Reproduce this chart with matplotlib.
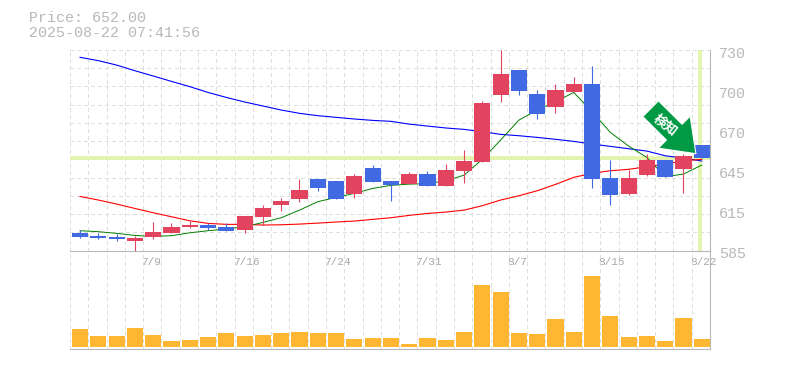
"""Candlestick chart with moving averages, a volume panel and a signal arrow."""
import matplotlib
matplotlib.use("Agg")
import matplotlib.pyplot as plt
import numpy as np
from matplotlib.patches import Rectangle

MONO = "Liberation Mono"
GREY = "#b8b8b8"
GRID = "#dedede"

title_lines = ["Price: 652.00", "2025-08-22 07:41:56"]
date_ticks = [4, 9, 14, 19, 24, 29, 34]
date_labels = ["7/9", "7/16", "7/24", "7/31", "8/7", "8/15", "8/22"]
price_ticks = [585, 614, 643, 672, 701, 730]
price_labels = ["585", "615", "645", "670", "700", "730"]

opens = [597.6, 595.4, 594.7, 591.8, 594.7, 597.6, 601.9, 603.4, 601.9, 599.8, 609.2, 617.9,
         622.2, 636.7, 635.2, 625.8, 644.6, 635.2, 633.0, 640.3, 631.6, 642.4, 649.0, 697.4,
         715.5, 698.1, 688.7, 699.6, 705.4, 637.4, 625.8, 639.6, 650.4, 643.9, 661.3]
closes = [594.7, 594.0, 593.3, 594.0, 598.3, 601.9, 603.4, 601.2, 599.0, 609.9, 615.7, 620.7,
          628.7, 630.2, 622.2, 638.8, 634.5, 632.3, 640.3, 631.6, 643.2, 649.7, 691.6, 712.6,
          700.3, 683.7, 701.0, 705.4, 636.7, 625.1, 637.4, 650.4, 638.1, 653.3, 651.8]
highs = [599.8, 597.8, 596.9, 595.4, 605.6, 604.8, 606.0, 604.8, 604.8, 609.9, 617.9, 622.9,
         636.7, 636.7, 635.2, 640.3, 646.8, 635.2, 641.7, 642.4, 647.5, 657.6, 693.1, 730.0,
         715.5, 701.0, 705.4, 710.4, 718.4, 650.4, 643.2, 654.7, 650.4, 654.7, 661.3]
lows = [594.0, 593.3, 591.8, 584.8, 593.3, 597.6, 601.2, 599.5, 599.0, 597.6, 603.1, 613.5,
        620.0, 628.0, 622.2, 622.9, 634.5, 621.0, 633.0, 631.6, 631.6, 633.8, 649.0, 692.4,
        697.4, 680.1, 684.4, 699.6, 630.2, 617.9, 625.1, 638.8, 638.1, 626.5, 651.8]
volumes = [18, 11, 11, 19, 12, 6, 7, 10, 14, 11, 12, 14, 15, 14, 14, 8, 9, 9,
           3, 9, 7, 15, 62, 55, 14, 13, 28, 15, 71, 31, 10, 11, 6, 29, 8]

ma_short = [599.3, 598.6, 597.4, 595.9, 595.2, 595.7, 597.8, 599.3, 600.5, 602.2, 605.3, 608.7,
            614.2, 620.3, 623.4, 626.3, 629.9, 632.1, 633.0, 633.3, 635.4, 639.5, 650.9, 664.9,
            679.3, 686.6, 692.6, 699.3, 685.4, 670.4, 660.5, 652.3, 638.3, 640.3, 646.8]
ma_mid = [624.1, 621.5, 618.6, 615.4, 612.3, 609.4, 606.5, 604.6, 603.9, 603.9, 603.4, 603.6,
          604.1, 604.8, 605.6, 606.3, 607.5, 608.7, 610.4, 611.8, 612.8, 614.2, 617.4, 621.5,
          624.6, 628.2, 632.8, 637.9, 640.8, 642.7, 643.7, 645.6, 647.5, 649.9, 650.9]
ma_long = [724.7, 722.3, 719.1, 715.0, 711.2, 707.3, 703.5, 699.3, 695.7, 692.4, 689.5, 686.6,
           684.2, 682.5, 681.3, 680.1, 679.1, 678.4, 676.4, 675.0, 673.6, 672.6, 670.9, 669.0,
           668.0, 666.8, 665.4, 663.9, 662.0, 660.3, 658.6, 656.9, 653.5, 651.8, 649.7]
last_price = 652.0
last_index = 34

fig = plt.figure(figsize=(7.85, 3.70), dpi=100)
ax = fig.add_axes([70 / 785, 1 - 250.5 / 370, 640 / 785, 200.5 / 370])
ax_vol = fig.add_axes([70 / 785, 1 - 349 / 370, 640 / 785, 98.5 / 370], sharex=ax)
ax_vol.patch.set_visible(False)

idx = np.arange(len(opens))
ax.set_xlim(-0.55, 34.45)
ax.set_ylim(585, 730)
ax_vol.set_ylim(-2, 96.5)

# grid: 35 columns, 11 rows
grid_x = np.arange(-0.55, 34.46, 1.0)
for a in (ax, ax_vol):
    a.set_xticks(grid_x, minor=True)
    a.grid(True, which="minor", axis="x", color=GRID, lw=0.72, ls=(0, (3, 3)), antialiased=False)
    a.set_axisbelow(True)
    a.tick_params(which="both", length=0, labelbottom=False, labelleft=False)
    a.spines["left"].set_visible(False)
    a.spines["top"].set_visible(False)
    a.spines["right"].set_color(GREY)
    a.spines["bottom"].set_color(GREY)
    a.set_xticks([])
ax.set_yticks(np.linspace(585, 730, 12), minor=True)
ax.grid(True, which="minor", axis="y", color=GRID, lw=0.72, ls=(0, (3, 3)), antialiased=False)
ax_vol.set_yticks([])

# last price guides
ax.axhline(last_price, color="#e2f5a8", lw=2.6, zorder=1.5)
ax.axvline(last_index - 0.1, color="#e2f5a8", lw=2.6, zorder=1.5)

ax.plot(idx, ma_long, color="#0000ff", lw=0.8, zorder=2)
ax.plot(idx, ma_mid, color="#ff0000", lw=0.8, zorder=2)
ax.plot(idx, ma_short, color="#008000", lw=0.7, zorder=2)

for i, (o, c, h, l) in enumerate(zip(opens, closes, highs, lows)):
    col = "#e2435f" if c >= o else "#4169e1"
    ax.vlines(i, l, h, color=col, lw=0.8, zorder=3)
    ax.add_patch(Rectangle((i - 0.44, min(o, c)), 0.88, abs(c - o), fc=col, ec="none", zorder=3))

ax_vol.bar(idx, volumes, width=0.88, color="#ffb733", zorder=2)

# signal arrow, pointing at the latest bars
ax.annotate("", xy=(33.68, 655.0), xytext=(-32.6, 32.4), textcoords="offset points",
            annotation_clip=False, zorder=5,
            arrowprops=dict(arrowstyle="simple,head_length=22,head_width=32.5,tail_width=16",
                            mutation_scale=1, fc="#009944", ec="white", lw=0.8,
                            shrinkA=0, shrinkB=0))
ax.annotate("検知", xy=(33.68, 655.0), xytext=(-21.6, 20.6), textcoords="offset points",
            color="white", fontsize=9.5, fontweight="bold", rotation=-38, zorder=6,
            family=["Noto Sans CJK JP", "DejaVu Sans"], ha="center", va="center",
            rotation_mode="anchor")

# labels
for tick, label in zip(price_ticks, price_labels):
    ax.annotate(label, (1, tick), xycoords=ax.get_yaxis_transform(), xytext=(6.2, -2.6),
                textcoords="offset points", color=GREY, family=MONO, fontsize=10.8,
                ha="left", va="center", annotation_clip=False)
for tick, label in zip(date_ticks, date_labels):
    ax.annotate(label, (tick, 0), xycoords=ax.get_xaxis_transform(), xytext=(-8.6, -8),
                textcoords="offset points", color="#a8a8a8", family=MONO, fontsize=8,
                ha="left", va="center", annotation_clip=False)
fig.text(29 / 785, 1 - 18 / 370, title_lines[0], color=GREY, family=MONO, fontsize=10.8,
         ha="left", va="center")
fig.text(29 / 785, 1 - 33 / 370, title_lines[1], color=GREY, family=MONO, fontsize=10.8,
         ha="left", va="center")

fig.savefig("out.png", dpi=100)
